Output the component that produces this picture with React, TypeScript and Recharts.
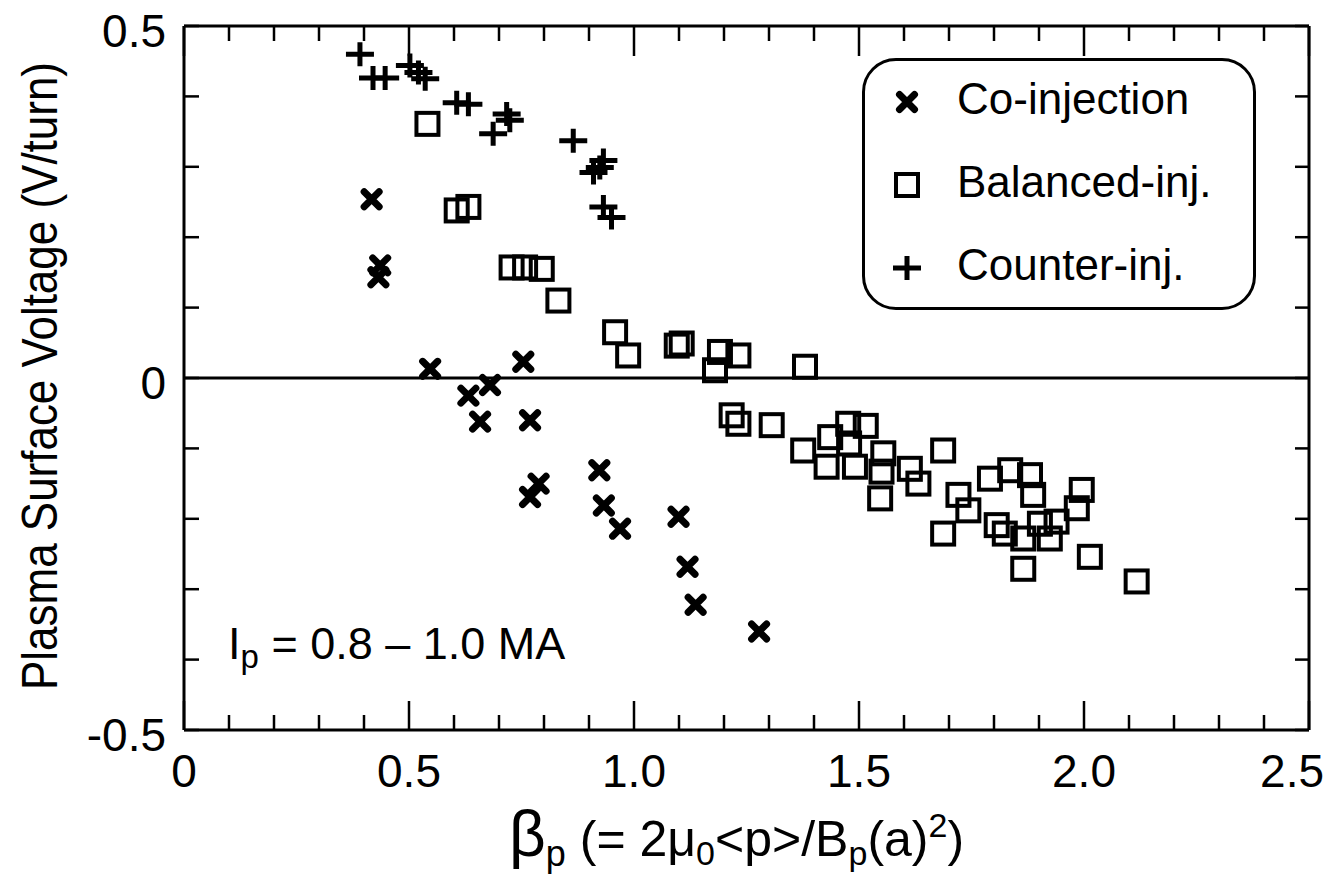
import React from "react";
import { ScatterChart, Scatter, XAxis, YAxis, ReferenceLine, Legend } from "recharts";

// beta_p vs plasma surface voltage
const coInjection: [number, number][] = [
  [0.417, 0.254], [0.436, 0.16], [0.432, 0.143], [0.547, 0.013], [0.754, 0.023],
  [0.632, -0.025], [0.68, -0.01], [0.658, -0.062], [0.769, -0.06], [0.788, -0.15],
  [0.769, -0.169], [0.923, -0.131], [0.933, -0.181], [0.969, -0.214], [1.099, -0.197],
  [1.119, -0.268], [1.137, -0.322], [1.278, -0.36],
];

const balancedInj: [number, number][] = [
  [0.541, 0.361], [0.606, 0.238], [0.632, 0.243], [0.728, 0.157], [0.758, 0.157],
  [0.795, 0.155], [0.832, 0.11], [0.958, 0.065], [0.987, 0.032], [1.095, 0.046],
  [1.106, 0.049], [1.191, 0.037], [1.232, 0.032], [1.18, 0.011], [1.38, 0.016],
  [1.217, -0.053], [1.232, -0.065], [1.306, -0.067], [1.376, -0.103], [1.436, -0.084],
  [1.476, -0.065], [1.515, -0.068], [1.478, -0.093], [1.428, -0.126], [1.491, -0.126],
  [1.554, -0.107], [1.55, -0.133], [1.547, -0.171], [1.613, -0.129], [1.632, -0.15],
  [1.687, -0.103], [1.687, -0.221], [1.721, -0.166], [1.743, -0.188], [1.791, -0.143],
  [1.836, -0.131], [1.88, -0.138], [1.887, -0.166], [1.806, -0.209], [1.824, -0.221],
  [1.865, -0.228], [1.924, -0.228], [1.939, -0.204], [1.984, -0.185], [1.995, -0.159],
  [1.902, -0.207], [1.865, -0.271], [2.013, -0.254], [2.117, -0.289],
];

const counterInj: [number, number][] = [
  [0.391, 0.46], [0.42, 0.426], [0.447, 0.426], [0.502, 0.444], [0.521, 0.434],
  [0.536, 0.425], [0.606, 0.391], [0.632, 0.389], [0.717, 0.375], [0.724, 0.366],
  [0.687, 0.347], [0.865, 0.337], [0.91, 0.292], [0.932, 0.309], [0.924, 0.299],
  [0.932, 0.243], [0.95, 0.228],
];

const xTicks = [
  0, 0.1, 0.2, 0.3, 0.4, 0.5, 0.6, 0.7, 0.8, 0.9, 1.0, 1.1, 1.2, 1.3, 1.4, 1.5,
  1.6, 1.7, 1.8, 1.9, 2.0, 2.1, 2.2, 2.3, 2.4, 2.5,
];
const yTicks = [-0.5, -0.4, -0.3, -0.2, -0.1, 0, 0.1, 0.2, 0.3, 0.4, 0.5];
const xLabeled = [0, 0.5, 1.0, 1.5, 2.0, 2.5];
const yLabeled = [-0.5, 0, 0.5];

const FONT = '"Liberation Sans", Arial, Helvetica, sans-serif';

const toPoints = (arr: [number, number][]) => arr.map(([x, y]) => ({ x, y }));

const has = (list: number[], v: number) => list.some((t) => Math.abs(t - v) < 1e-6);
const fmtX = (v: number) => (v === 0 ? "0" : v.toFixed(1));
const fmtY = (v: number) => (v === 0 ? "0" : String(v));

const CrossShape = ({ cx, cy }: any) => (
  <path
    d={`M${cx - 7.5},${cy - 7.5}L${cx + 7.5},${cy + 7.5}M${cx + 7.5},${cy - 7.5}L${cx - 7.5},${cy + 7.5}`}
    stroke="#000"
    strokeWidth={7}
    strokeLinecap="round"
    fill="none"
  />
);

const SquareShape = ({ cx, cy }: any) => (
  <rect x={cx - 11} y={cy - 11} width={22} height={22} stroke="#000" strokeWidth={4} fill="none" />
);

const PlusShape = ({ cx, cy }: any) => (
  <path
    d={`M${cx - 14},${cy}L${cx + 14},${cy}M${cx},${cy - 12}L${cx},${cy + 12}`}
    stroke="#000"
    strokeWidth={5}
    fill="none"
  />
);

const BottomTick = ({ x, y, payload }: any) => {
  const major = has(xLabeled, payload.value);
  const last = payload.value === 2.5;
  return (
    <g>
      <line x1={x} x2={x} y1={y} y2={y - (major ? 29 : 15)} stroke="#000" strokeWidth={2.5} />
      {major && (
        <text
          x={last ? x + 15 : x}
          y={y + 57}
          textAnchor={last ? "end" : "middle"}
          fontSize={46}
          fontFamily={FONT}
          fill="#000"
        >
          {fmtX(payload.value)}
        </text>
      )}
    </g>
  );
};

const TopTick = ({ x, y, payload }: any) => {
  const major = has(xLabeled, payload.value);
  return <line x1={x} x2={x} y1={y} y2={y + (major ? 30 : 15)} stroke="#000" strokeWidth={2.5} />;
};

const LeftTick = ({ x, y, payload }: any) => (
  <g>
    <line x1={x} x2={x + 15} y1={y} y2={y} stroke="#000" strokeWidth={2.5} />
    {has(yLabeled, payload.value) && (
      <text x={x - 18} y={y + 21} textAnchor="end" fontSize={46} fontFamily={FONT} fill="#000">
        {fmtY(payload.value)}
      </text>
    )}
  </g>
);

const RightTick = ({ x, y }: any) => (
  <line x1={x} x2={x - 14} y1={y} y2={y} stroke="#000" strokeWidth={2.5} />
);

const XTitle = () => (
  <text x={509} y={856} fontFamily={FONT} fill="#000" fontSize={50}>
    <tspan fontSize={64}>β</tspan>
    <tspan fontSize={36} dy={10}>p</tspan>
    <tspan dy={-10}> (= 2μ</tspan>
    <tspan fontSize={34} dy={9}>0</tspan>
    <tspan dy={-9}>&lt;p&gt;/B</tspan>
    <tspan fontSize={34} dy={9}>p</tspan>
    <tspan dy={-9}>(a)</tspan>
    <tspan fontSize={34} dy={-19}>2</tspan>
    <tspan dy={19}>)</tspan>
  </text>
);

const YTitle = () => (
  <text
    x={40}
    y={376}
    transform="rotate(-90, 40, 376)"
    textAnchor="middle"
    dominantBaseline="central"
    fontFamily={FONT}
    fontSize={50}
    textLength={628}
    lengthAdjust="spacingAndGlyphs"
    fill="#000"
  >
    Plasma Surface Voltage (V/turn)
  </text>
);

const Note = () => (
  <text x={228} y={659} fontFamily={FONT} fontSize={45} fill="#000">
    I<tspan fontSize={33} dy={9}>p</tspan>
    <tspan dy={-9}> = 0.8 – 1.0 MA</tspan>
  </text>
);

const legendRows = [
  { name: "Co-injection", Shape: CrossShape },
  { name: "Balanced-inj.", Shape: SquareShape },
  { name: "Counter-inj.", Shape: PlusShape },
];

const LegendBox = () => (
  <div
    style={{
      width: 394,
      height: 252,
      boxSizing: "border-box",
      border: "3px solid #000",
      borderRadius: 34,
      background: "#fff",
      position: "relative",
    }}
  >
    <svg width={388} height={246} style={{ position: "absolute", left: 0, top: 0 }}>
      {legendRows.map((r, i) => (
        <g key={r.name}>
          <r.Shape cx={42} cy={41 + i * 83} />
          <text x={92} y={53 + i * 83} fontFamily={FONT} fontSize={44} fill="#000">
            {r.name}
          </text>
        </g>
      ))}
    </svg>
  </div>
);

const axisLine = { stroke: "#000", strokeWidth: 3 };

export default function App() {
  return (
    <div style={{ position: "absolute", left: 0, top: 0, background: "#fff" }}>
      <ScatterChart
        width={1330}
        height={877}
        margin={{ top: 25, right: 20, bottom: 146, left: 183 }}
      >
        <XAxis
          xAxisId="b"
          type="number"
          dataKey="x"
          domain={[0, 2.5]}
          ticks={xTicks}
          interval={0}
          height={1}
          tickSize={0}
          tickMargin={0}
          tickLine={false}
          tick={BottomTick}
          axisLine={axisLine}
          allowDataOverflow
          label={{ content: XTitle }}
        />
        <XAxis
          xAxisId="t"
          orientation="top"
          type="number"
          dataKey="x"
          domain={[0, 2.5]}
          ticks={xTicks}
          interval={0}
          height={1}
          tickSize={0}
          tickMargin={0}
          tickLine={false}
          tick={TopTick}
          axisLine={axisLine}
          allowDataOverflow
        />
        <YAxis
          yAxisId="l"
          type="number"
          dataKey="y"
          domain={[-0.5, 0.5]}
          ticks={yTicks}
          interval={0}
          width={1}
          tickSize={0}
          tickMargin={0}
          tickLine={false}
          tick={LeftTick}
          axisLine={axisLine}
          allowDataOverflow
          label={{ content: YTitle }}
        />
        <YAxis
          yAxisId="r"
          orientation="right"
          type="number"
          dataKey="y"
          domain={[-0.5, 0.5]}
          ticks={yTicks}
          interval={0}
          width={1}
          tickSize={0}
          tickMargin={0}
          tickLine={false}
          tick={RightTick}
          axisLine={axisLine}
          allowDataOverflow
        />
        <ReferenceLine
          y={0}
          xAxisId="b"
          yAxisId="l"
          stroke="#000"
          strokeWidth={3}
          label={{ content: Note }}
        />
        <Legend
          layout="vertical"
          align="center"
          verticalAlign="middle"
          wrapperStyle={{ position: "absolute", left: 862, top: 58, width: 394, height: 252 }}
          content={LegendBox}
        />
        <Scatter
          name="Co-injection"
          data={toPoints(coInjection)}
          xAxisId="b"
          yAxisId="l"
          shape={CrossShape}
          fill="#000"
          isAnimationActive={false}
        />
        <Scatter
          name="Balanced-inj."
          data={toPoints(balancedInj)}
          xAxisId="b"
          yAxisId="l"
          shape={SquareShape}
          fill="#000"
          isAnimationActive={false}
        />
        <Scatter
          name="Counter-inj."
          data={toPoints(counterInj)}
          xAxisId="b"
          yAxisId="l"
          shape={PlusShape}
          fill="#000"
          isAnimationActive={false}
        />
      </ScatterChart>
    </div>
  );
}
